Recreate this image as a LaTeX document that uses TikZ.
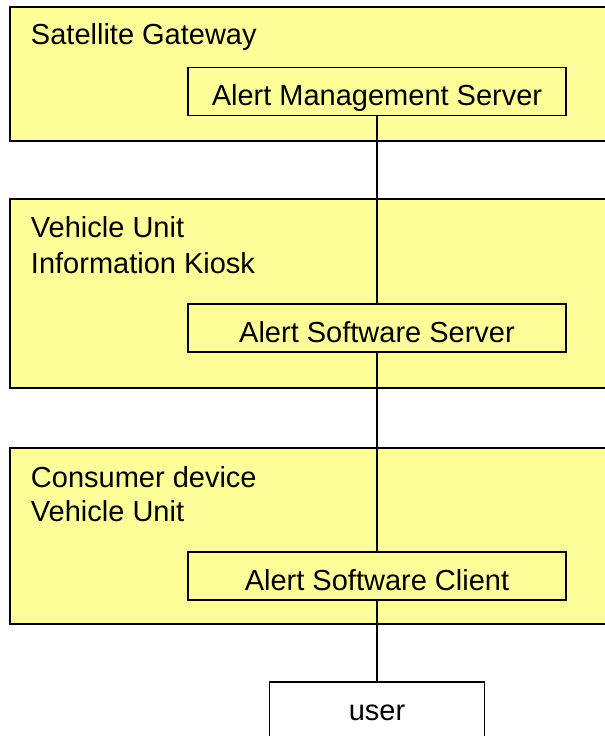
\documentclass[tikz,border=0pt]{standalone}
\usepackage{fontspec}
\setmainfont{Liberation Sans}
\definecolor{zonefill}{HTML}{FFFF99}
\begin{document}
\begin{tikzpicture}[x=0.75pt, y=-0.75pt,
  every node/.style={font=\fontsize{21.75pt}{26pt}\selectfont, inner sep=0pt, outer sep=0pt},
  zone/.style={draw=black, fill=zonefill, line width=1pt, anchor=north west,
    minimum width=450pt},
  component/.style={draw=black, fill=zonefill, line width=1pt,
    minimum width=283.5pt, minimum height=36pt, text height=21pt, text depth=0pt},
  actor/.style={draw=black, fill=white, line width=1pt,
    minimum width=161.25pt, minimum height=45pt, text height=12pt, text depth=0pt},
  zonelabel/.style={anchor=base west},
  link/.style={draw=black, line width=0.8pt}]
  \useasboundingbox (0,0) rectangle (604,736);

  % deployment zones (open to the right)
  \node[zone, minimum height=100.5pt] (gw) at (10,7) {};
  \node[zone, minimum height=141.75pt] (kiosk) at (10,199) {};
  \node[zone, minimum height=132pt] (device) at (10,448) {};

  % zone titles
  \node[zonelabel] (gwA) at (31,44) {Satellite Gateway};
  \node[zonelabel] (kioskA) at (31,237) {Vehicle Unit};
  \node[zonelabel] (kioskB) at (31,273) {Information Kiosk};
  \node[zonelabel] (deviceA) at (31,487) {Consumer device};
  \node[zonelabel] (deviceB) at (31,521) {Vehicle Unit};

  % software components
  \node[component] (ams) at (377,91.5) {Alert Management Server};
  \node[component] (ass) at (377,328) {Alert Software Server};
  \node[component] (asc) at (377,576) {Alert Software Client};
  \node[actor] (user) at (377,712) {user};

  % connections
  \draw[link] (ams.south) -- (ass.north);
  \draw[link] (ass.south) -- (asc.north);
  \draw[link] (asc.south) -- (user.north);
\end{tikzpicture}
\end{document}
